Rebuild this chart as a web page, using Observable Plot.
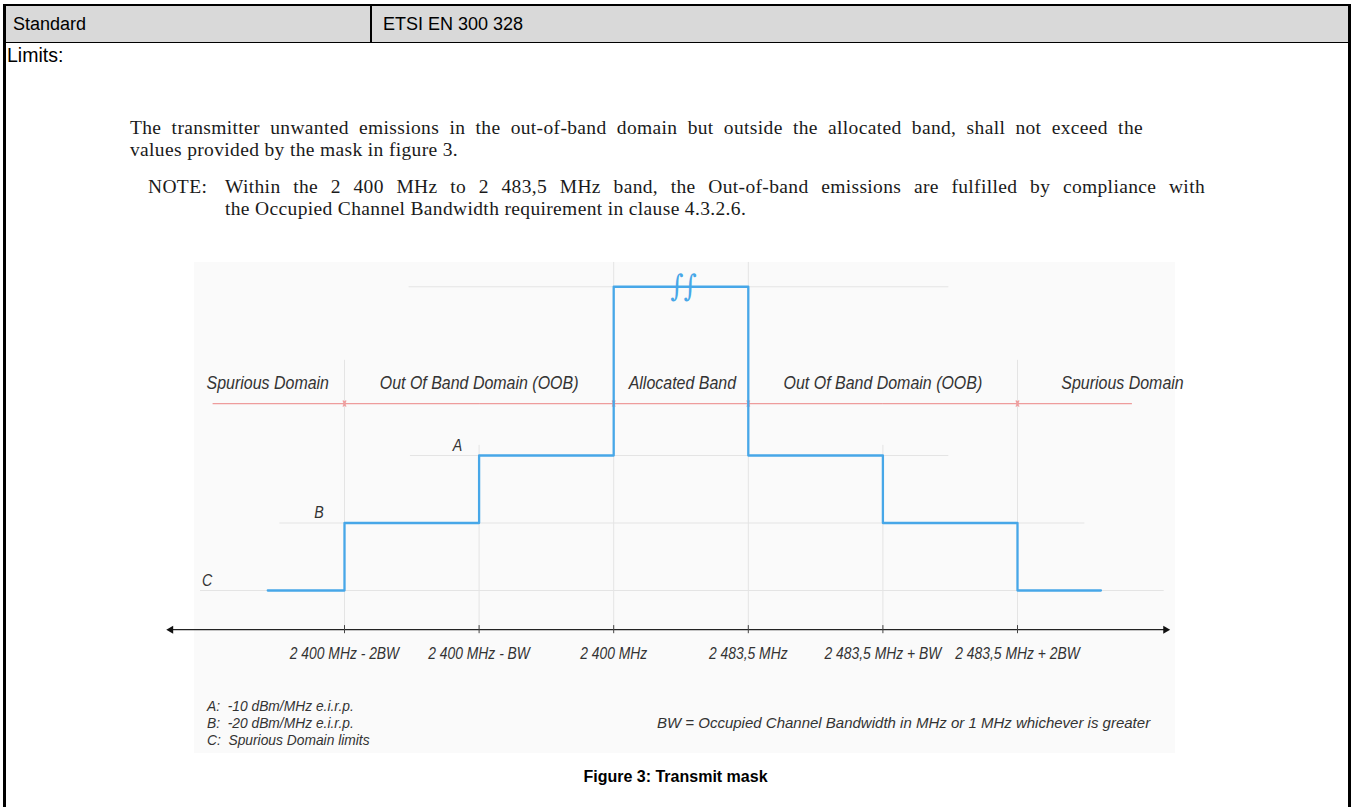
<!DOCTYPE html>
<html><head><meta charset="utf-8">
<script src="https://cdn.jsdelivr.net/npm/d3@7"></script>
<script src="https://cdn.jsdelivr.net/npm/@observablehq/plot@0.6"></script>
<style>
body{margin:0;width:1351px;height:807px;overflow:hidden;background:#fff;position:relative;font-family:"Liberation Sans",Arial,sans-serif;color:#000}
.abs{position:absolute;white-space:nowrap}
.serif{font-family:"Liberation Serif","Times New Roman",serif;font-size:19.5px;letter-spacing:0.35px;color:#1a1a1a;line-height:21px}
.just{text-align:justify;text-align-last:justify;white-space:normal}
.fig{font-family:"Liberation Sans",Arial,sans-serif;font-style:italic;color:#333;font-size:15px;line-height:17px}
</style></head><body>
<div class="abs" style="left:3px;top:4px;width:1348px;height:820px;border-left:3px solid #000;border-right:3px solid #000;border-top:2px solid #000;box-sizing:border-box"></div>
<div class="abs" style="left:6px;top:6px;width:1342px;height:36px;background:#d9d9d9;border-bottom:1.5px solid #000"></div>
<div class="abs" style="left:370px;top:6px;width:2px;height:37px;background:#000"></div>
<div class="abs" style="left:13px;top:6px;line-height:37px;font-size:18px">Standard</div>
<div class="abs" style="left:383px;top:6px;line-height:37px;font-size:18px">ETSI EN 300 328</div>
<div class="abs" style="left:7px;top:44px;line-height:22px;font-size:19.5px">Limits:</div>

<div class="abs serif just" style="left:130px;top:117px;width:1013px">The transmitter unwanted emissions in the out-of-band domain but outside the allocated band, shall not exceed the</div>
<div class="abs serif" style="left:130px;top:139px">values provided by the mask in figure 3.</div>
<div class="abs serif" style="left:148px;top:176px">NOTE:</div>
<div class="abs serif just" style="left:225px;top:176px;width:980px">Within the 2 400 MHz to 2 483,5 MHz band, the Out-of-band emissions are fulfilled by compliance with</div>
<div class="abs serif" style="left:225px;top:198px">the Occupied Channel Bandwidth requirement in clause 4.3.2.6.</div>

<div id="figbox" class="abs" style="left:194px;top:262px;width:981px;height:491px;background:#fafafa"></div>
<div class="abs fig" style="left:207px;top:697px;transform-origin:left top" id="legend"></div>
<div class="abs fig" style="left:0;top:714px;transform-origin:left top" id="bwnote">BW = Occupied Channel Bandwidth in MHz or 1 MHz whichever is greater</div>
<div class="abs" style="left:0;width:1351px;text-align:center;top:768px;font-size:16px;font-weight:bold">Figure 3: Transmit mask</div>

<script>
// ---- data ----
const tickPos = [2, 3, 4, 5, 6, 7];
const tickLabels = ["2 400 MHz - 2BW", "2 400 MHz - BW", "2 400 MHz", "2 483,5 MHz", "2 483,5 MHz + BW", "2 483,5 MHz + 2BW"];
const levelNames = ["A", "B", "C"];
const levelValues = [2, 1, 0];
const levelDescriptions = ["-10 dBm/MHz e.i.r.p.", "-20 dBm/MHz e.i.r.p.", " Spurious Domain limits"];
const levelLabelX = [2.84, 1.81, 0.98];
const inBandLevel = 4.5;
const maskFreq = [1.43, 2, 3, 4, 5, 6, 7, 7.62];
const maskLevel = [0, 1, 2, 4.5, 2, 1, 0, 0];
const regionNames = ["Spurious Domain", "Out Of Band Domain (OOB)", "Allocated Band", "Out Of Band Domain (OOB)", "Spurious Domain"];
const regionStart = [1.02, 2, 4, 5, 7];
const regionEnd = [2, 4, 5, 7, 7.85];
const regionLabelX = [1.43, 3.0, 4.51, 6.0, 7.78];
const regionArrowStart = [false, true, true, true, true];
const regionArrowEnd = [true, true, true, true, false];
const gridLevels = [4.5, 2, 1, 0];
const gridFrom = [2.48, 2.49, 1.52, 0.93];
const gridTo = [6.49, 6.49, 7.5, 8.09];
const vgridTop = [3.41, 2.15, 4.86, 4.86, 2.15, 3.41];
const axisLevel = -0.58;
const axisFrom = 0.71, axisTo = 8.1;
const regionRow = 2.77, labelRow = 3.07;

// ---- derived tables ----
const mask = maskFreq.map((x, i) => ({x, y: maskLevel[i]}));
const ticks = tickPos.map((x, i) => ({x, label: tickLabels[i], top: vgridTop[i]}));
const levels = levelNames.map((n, i) => ({name: n, y: levelValues[i], lx: levelLabelX[i]}));
const grid = gridLevels.map((y, i) => ({y, x1: gridFrom[i], x2: gridTo[i]}));
const regions = regionNames.map((n, i) => ({name: n, a: regionStart[i], b: regionEnd[i], lx: regionLabelX[i]}));
const arrowSegs = [];
regions.forEach((r, i) => {
  const m = (r.a + r.b) / 2;
  if (regionArrowStart[i] && regionArrowEnd[i]) {
    arrowSegs.push({x1: m, x2: r.b}, {x1: m, x2: r.a});
  } else if (regionArrowEnd[i]) {
    arrowSegs.push({x1: r.a, x2: r.b});
  } else {
    arrowSegs.push({x1: r.b, x2: r.a});
  }
});

const figFont = '"Liberation Sans",Arial,sans-serif';
const blue = "#47a7e8";
const red = "#ee9c9c";

const chart = Plot.plot({
  width: 981,
  height: 491,
  x: {domain: [2, 7], range: [150, 823], axis: null},
  y: {domain: [0, 2], range: [328, 193], axis: null},
  style: {background: "transparent", overflow: "visible"},
  marks: [
    Plot.ruleX(ticks, {x: "x", y1: axisLevel, y2: "top", stroke: "#e4e4e4", strokeWidth: 1}),
    Plot.ruleY(grid, {y: "y", x1: "x1", x2: "x2", stroke: "#e4e4e4", strokeWidth: 1}),
    Plot.text(regions, {x: "lx", y: labelRow, text: "name", fontFamily: figFont, fontStyle: "italic", fontSize: 19, fill: "#333"}),
    Plot.link(arrowSegs, {x1: "x1", x2: "x2", y1: regionRow, y2: regionRow, stroke: red, strokeWidth: 1.3, markerEnd: "arrow"}),
    Plot.text(levels, {x: "lx", y: (d) => d.y + 0.15, text: "name", fontFamily: figFont, fontStyle: "italic", fontSize: 17, fill: "#333"}),
    Plot.line(mask, {x: "x", y: "y", curve: "step-after", stroke: blue, strokeWidth: 2.3}),
    Plot.text([4.5], {x: (d) => d + 0.02, y: inBandLevel, text: () => "∫∫", fontFamily: "DejaVu Serif", fontSize: 30, fill: blue}),
    Plot.ruleY([axisLevel], {x1: axisFrom, x2: axisTo, stroke: "#222", strokeWidth: 1.3}),
    Plot.dot([{x: axisFrom, r: -90}, {x: axisTo, r: 90}], {x: "x", y: axisLevel, symbol: "triangle2", r: 3.8, rotate: "r", fill: "#111", stroke: "none"}),
    Plot.ruleX(ticks, {x: "x", y1: axisLevel - 0.06, y2: axisLevel + 0.06, stroke: "#444", strokeWidth: 1}),
    Plot.text(ticks, {x: "x", y: axisLevel, dy: 24, text: "label", fontFamily: figFont, fontStyle: "italic", fontSize: 16.5, fill: "#333"})
  ]
});
chart.style.position = "absolute";
chart.style.left = "0px";
chart.style.top = "0px";
document.getElementById("figbox").appendChild(chart);

// narrow italic look: condense glyphs horizontally
chart.querySelectorAll("text").forEach((t) => {
  const w = t.getComputedTextLength();
  if (w > 0) {
    t.setAttribute("textLength", (w * 0.84).toFixed(1));
    t.setAttribute("lengthAdjust", "spacingAndGlyphs");
  }
});

const legend = document.getElementById("legend");
legend.innerHTML = levelNames.map((n, i) => `${n}:&nbsp; ${levelDescriptions[i]}`).join("<br>");
legend.style.transform = "scaleX(0.92)";
const bw = document.getElementById("bwnote");
const bwW = bw.offsetWidth;
const bwScale = 493 / bwW;
bw.style.left = (1150 - 493) + "px";
bw.style.transform = `scaleX(${bwScale})`;
</script>
</body></html>
